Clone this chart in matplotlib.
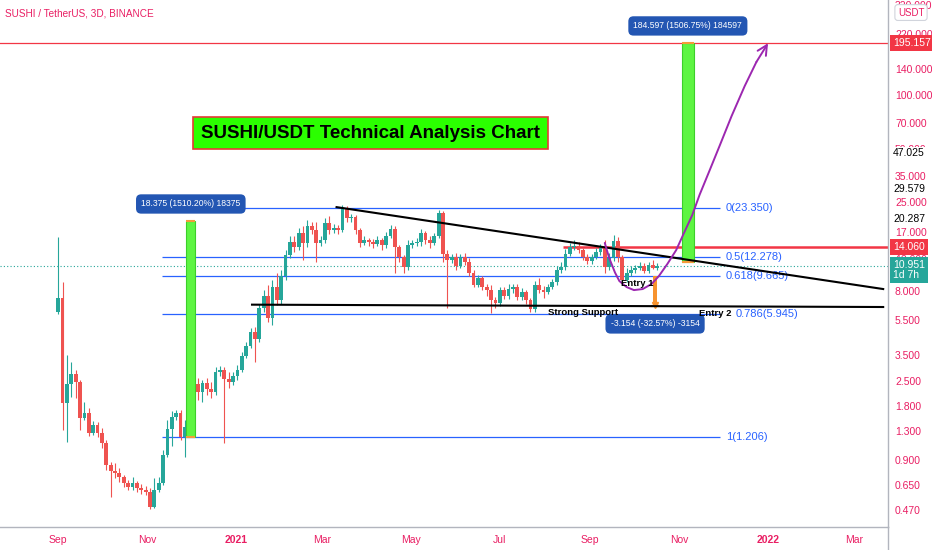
import matplotlib
matplotlib.use('Agg')
import matplotlib.pyplot as plt
import matplotlib.dates as mdates
from matplotlib.patches import Rectangle
from matplotlib.lines import Line2D
from matplotlib.transforms import blended_transform_factory
from matplotlib.ticker import NullLocator
import pandas as pd

FONT = ['Liberation Sans', 'DejaVu Sans']
plt.rcParams['font.family'] = FONT

PINK = '#e91e63'
UP = '#26a69a'
DOWN = '#ef5350'
FIB = '#2962ff'
BOXBLUE = '#2356b3'

# 3D candles, SUSHI/USDT (Binance)
first_open = 6.06
closes = [7.26, 1.88, 2.39, 2.73, 2.46, 1.54, 1.65, 1.27, 1.41, 1.27,
          1.12, 0.84, 0.78, 0.76, 0.72, 0.667, 0.633, 0.667, 0.625, 0.609,
          0.593, 0.488, 0.609, 0.667, 0.956, 1.335, 1.56, 1.645, 1.205, 1.37,
          1.90, 2.39, 2.15, 2.42, 2.24, 2.15, 2.80, 2.87, 2.555, 2.46,
          2.65, 2.87, 3.43, 3.91, 4.69, 4.28, 6.39, 7.45, 5.61, 8.37,
          7.08, 9.62, 12.65, 15.0, 14.06, 16.8, 14.8, 18.4, 17.5, 14.8,
          15.4, 19.1, 17.5, 17.95, 17.5, 23.3, 20.4, 20.7, 17.5, 14.8,
          15.4, 15.0, 14.6, 15.4, 14.4, 16.2, 17.7, 14.06, 12.3, 10.9,
          14.4, 14.8, 15.0, 16.8, 15.4, 14.8, 16.2, 21.8, 12.9, 11.9,
          12.3, 11.0, 12.3, 11.6, 10.0, 8.59, 9.38, 8.37, 8.05, 7.08,
          6.82, 8.05, 7.45, 8.16, 8.37, 7.36, 7.84, 7.08, 6.3, 8.59,
          8.05, 7.84, 8.37, 8.94, 10.4, 10.9, 12.9, 14.06, 14.2, 13.5,
          12.3, 11.75, 12.3, 13.15, 13.9, 10.9, 12.2, 15.2, 12.3, 9.17,
          10.0, 10.4, 10.7, 11.0, 10.25, 11.15, 10.7, 10.951]
highs = [15.98, 8.94, 3.48, 3.19, 2.87, 2.52, 1.90, 1.76, 1.48, 1.46,
         1.35, 1.16, 0.87, 0.86, 0.81, 0.74, 0.693, 0.72, 0.684, 0.658,
         0.641, 0.625, 0.712, 0.72, 1.02, 1.50, 1.69, 1.71, 1.71, 1.50,
         2.02, 2.52, 2.59, 2.52, 2.59, 2.46, 2.99, 3.02, 2.99, 2.80,
         2.80, 3.06, 3.62, 4.12, 4.93, 4.99, 6.73, 8.05, 8.59, 9.17,
         10.0, 10.4, 13.5, 16.2, 16.2, 17.95, 18.4, 19.9, 19.4, 19.4,
         16.2, 20.4, 20.9, 18.9, 18.7, 24.2, 23.8, 21.5, 21.2, 17.95,
         16.2, 15.8, 15.6, 16.2, 15.8, 17.1, 18.7, 18.4, 14.4, 12.65,
         15.4, 15.4, 15.8, 17.7, 17.3, 16.2, 16.8, 22.6, 22.3, 13.5,
         12.9, 13.0, 12.9, 13.0, 12.2, 10.4, 9.75, 9.62, 8.7, 8.59,
         7.36, 8.37, 8.37, 8.7, 8.7, 8.7, 8.26, 8.05, 7.26, 9.05,
         9.38, 8.48, 8.7, 9.29, 11.0, 11.6, 13.7, 14.8, 15.4, 15.0,
         13.9, 12.9, 12.9, 13.9, 14.6, 15.4, 13.0, 16.4, 16.0, 12.65,
         10.7, 11.0, 11.15, 11.6, 11.45, 11.6, 11.9, 11.45]
lows = [5.91, 1.32, 1.13, 2.02, 1.99, 1.32, 1.50, 1.22, 1.24, 1.21,
        1.05, 0.79, 0.56, 0.71, 0.675, 0.63, 0.609, 0.609, 0.593, 0.578,
        0.571, 0.476, 0.482, 0.593, 0.649, 0.93, 1.07, 1.50, 1.16, 0.93,
        1.32, 1.85, 1.95, 1.90, 2.07, 1.99, 2.07, 2.65, 1.12, 2.27,
        2.36, 2.52, 2.80, 3.35, 3.82, 3.19, 4.12, 6.06, 5.33, 5.13,
        6.63, 6.73, 9.17, 12.2, 13.15, 13.5, 11.9, 14.06, 16.6, 11.6,
        14.2, 14.8, 16.6, 16.8, 16.6, 17.1, 19.4, 19.4, 16.6, 14.06,
        14.4, 14.2, 13.9, 14.2, 13.5, 13.9, 15.8, 10.0, 11.6, 10.1,
        10.4, 13.9, 14.2, 14.2, 14.6, 13.9, 14.4, 15.8, 11.6, 6.39,
        11.45, 10.4, 10.7, 11.2, 9.62, 8.37, 8.37, 8.05, 7.5, 5.98,
        6.39, 6.55, 7.17, 7.17, 7.75, 7.08, 7.08, 6.73, 6.06, 6.06,
        7.75, 7.26, 7.63, 8.16, 8.59, 10.0, 10.4, 12.5, 13.5, 13.0,
        11.9, 11.3, 11.3, 12.05, 12.65, 10.1, 10.4, 11.75, 11.6, 8.94,
        8.94, 9.62, 10.1, 10.4, 10.0, 10.0, 10.6, 10.5]
opens = [first_open] + closes[:-1]
last_price = 10.951

# drawings
fib_levels = ['0', '0.5', '0.618', '0.786', '1']
fib_prices = [23.350, 12.278, 9.665, 5.945, 1.206]
fib_label_gap = [4, 4, 4, 11, 4]   # days right of the line end
fib_span = ['2020-11-11', '2021-11-29']

resist_dates = ['2021-03-11', '2022-03-21']
resist_prices = [23.5, 8.16]
support_dates = ['2021-01-12', '2022-03-21']
support_prices = [6.67, 6.47]

target_price = 195.157
resist_price = 14.060
resist_start = '2021-08-13'

bar1_dates = ['2020-11-28', '2020-12-04']
bar1_prices = [1.206, 19.581]
bar1_label = '18.375 (1510.20%) 18375'
bar2_dates = ['2021-11-03', '2021-11-11']
bar2_prices = [11.5, 195.157]
bar2_label = '184.597 (1506.75%) 184597'
drop_dates = ['2021-10-14', '2021-10-17']
drop_prices = [9.685, 6.531]
drop_label = '-3.154 (-32.57%) -3154'

curve_dates = ['2021-09-11', '2021-09-14', '2021-09-18', '2021-09-21', '2021-09-26',
               '2021-10-01', '2021-10-07', '2021-10-13', '2021-10-18', '2021-10-24',
               '2021-10-30', '2021-11-04', '2021-11-10', '2021-11-15', '2021-11-22',
               '2021-11-29', '2021-12-07', '2021-12-16', '2021-12-24', '2022-01-01']
curve_prices = [14.8, 12.2, 10.1, 9.05, 8.37, 8.05, 8.16, 8.7, 9.62, 11.3,
                13.5, 16.6, 21.2, 27.5, 37.9, 52.4, 76.2, 112.3, 153.1, 195.2]

notes = ['Entry 1', 'Strong Support', 'Entry 2']
note_dates = ['2021-10-03', '2021-08-27', '2021-11-26']
note_prices = [8.8, 6.06, 5.98]

ytick_vals = [320, 220, 140, 100, 70, 50, 35, 25, 17, 12, 8, 5.5, 3.5, 2.5,
              1.8, 1.3, 0.9, 0.65, 0.47]
side_prices = [47.025, 29.579, 20.287]
xtick_dates = ['2020-09-01', '2020-11-01', '2021-01-01', '2021-03-01', '2021-05-01',
               '2021-07-01', '2021-09-01', '2021-11-01', '2022-01-01', '2022-03-01']
xtick_labels = ['Sep', 'Nov', '2021', 'Mar', 'May', 'Jul', 'Sep', 'Nov', '2022', 'Mar']


def dn(s):
    return mdates.date2num(pd.Timestamp(s).to_pydatetime())


W, H = 932, 550
fig = plt.figure(figsize=(W / 100, H / 100), dpi=100)
ax = fig.add_axes([0, 23 / H, 888 / W, 527 / H])
ax.set_yscale('log')
ax.set_ylim(0.3777, 341.0)
jan = dn('2021-01-01')
ax.set_xlim(jan - 161.9, jan + 447.3)

# candles
dates = pd.date_range('2020-09-01', periods=len(closes), freq='3D')
x = mdates.date2num(dates.to_pydatetime())
cols = [UP if c >= o else DOWN for o, c in zip(opens, closes)]
ax.vlines(x, lows, highs, colors=cols, lw=0.8, zorder=3)
bot = [min(o, c) for o, c in zip(opens, closes)]
hgt = [max(abs(c - o), min(o, c) * 0.012) for o, c in zip(opens, closes)]
ax.bar(x, hgt, bottom=bot, width=2.6, color=cols, zorder=3, lw=0)

ax.axhline(last_price, color=UP, lw=0.8, ls=(0, (1, 2)), zorder=2)

# fib retracement
f0, f1 = dn(fib_span[0]), dn(fib_span[1])
for lvl, p, g in zip(fib_levels, fib_prices, fib_label_gap):
    ax.hlines(p, f0, f1, color=FIB, lw=0.9, zorder=2)
    ax.text(f1 + g, p, f'{lvl}({p:.3f})', color=FIB, fontsize=8,
            ha='left', va='center', zorder=4)

# horizontal levels
ax.axhline(target_price, color='#f23645', lw=0.9, zorder=2)
ax.hlines(resist_price, dn(resist_start), ax.get_xlim()[1], color='#f23645', lw=1.8, zorder=2)

# trend lines
ax.plot([dn(d) for d in resist_dates], resist_prices, color='black', lw=1.5, zorder=5)
ax.plot([dn(d) for d in support_dates], support_prices, color='black', lw=1.5, zorder=5)

# price range bars
for (d0, d1), (p0, p1), lab in [(bar1_dates, bar1_prices, bar1_label),
                                 (bar2_dates, bar2_prices, bar2_label)]:
    a, b = dn(d0), dn(d1)
    ax.add_patch(Rectangle((a, p0), b - a, p1 - p0, fc='#5df542', ec='#3ccf2a', lw=0.8, zorder=4))
    ax.hlines([p0, p1], a, b, color='#f59b3a', lw=1.5, zorder=4)
    ax.text((a + b) / 2, p1 * 1.25, lab, color='white', fontsize=6.2, ha='center',
            va='center', zorder=6,
            bbox=dict(boxstyle='round,pad=0.6', fc=BOXBLUE, ec='none'))

a, b = dn(drop_dates[0]), dn(drop_dates[1])
ax.add_patch(Rectangle((a, drop_prices[1]), b - a, drop_prices[0] - drop_prices[1],
                       fc='#f7932e', ec='none', zorder=4))
ax.plot([(a + b) / 2], [drop_prices[1] * 1.02], marker='v', color='#f7932e', ms=5, zorder=4)
ax.hlines(drop_prices[1], a - 1.2, b + 1.2, color='#f7932e', lw=1.5, zorder=4)
ax.text((a + b) / 2, 5.2, drop_label, color='white', fontsize=6.2, ha='center', va='center',
        zorder=6, bbox=dict(boxstyle='round,pad=0.6', fc=BOXBLUE, ec='none'))

# projected path
cx = [dn(d) for d in curve_dates]
ax.plot(cx[:-1], curve_prices[:-1], color='#9c27b0', lw=1.4, zorder=5, solid_capstyle='round')
ax.annotate('', xy=(cx[-1], curve_prices[-1]), xytext=(cx[-2], curve_prices[-2]),
            arrowprops=dict(arrowstyle='->,head_length=0.7,head_width=0.35',
                            color='#9c27b0', lw=1.4, shrinkA=0, shrinkB=0), zorder=5)

for t, d, p in zip(notes, note_dates, note_prices):
    ax.text(dn(d), p, t, fontsize=6.8, fontweight='bold', color='black',
            ha='center', va='center', zorder=6)

# title box
ax.text(0.4172, 0.7476, 'SUSHI/USDT Technical Analysis Chart', transform=ax.transAxes,
        fontsize=13.5, fontweight='bold', color='black', ha='center', va='center', zorder=7,
        bbox=dict(boxstyle='square,pad=0.42', fc='#2bff00', ec='#e53935', lw=1.2))
ax.text(5 / 888, 1 - 14 / 527, 'SUSHI / TetherUS, 3D, BINANCE', transform=ax.transAxes,
        fontsize=7.2, color=PINK, ha='left', va='center')

# axes styling
for s in ['left', 'top']:
    ax.spines[s].set_visible(False)
for s in ['right', 'bottom']:
    ax.spines[s].set_color('#b2b5be')
    ax.spines[s].set_linewidth(1)
fig.add_artist(Line2D([888 / W, 888 / W], [0, 23 / H], color='#b2b5be', lw=1))

ax.yaxis.tick_right()
ax.yaxis.set_minor_locator(NullLocator())
ax.set_yticks(ytick_vals)
ax.set_yticklabels([f'{v:.3f}' for v in ytick_vals])
ax.tick_params(axis='y', length=0, pad=5, labelcolor=PINK, labelsize=7.5)

ax.set_xticks([dn(d) for d in xtick_dates])
ax.set_xticklabels(xtick_labels)
ax.tick_params(axis='x', length=0, pad=6, labelcolor=PINK, labelsize=7.5)
for lab in ax.get_xticklabels():
    if lab.get_text().startswith('20'):
        lab.set_fontweight('bold')

tr = blended_transform_factory(ax.transAxes, ax.transData)
for p in side_prices:
    ax.text(1.0 + 5 / 888, p, f'{p:.3f}', transform=tr, fontsize=7.5, color='black',
            ha='left', va='center', clip_on=False, zorder=8,
            bbox=dict(boxstyle='square,pad=0.15', fc='white', ec='none'))
for p in [target_price, resist_price]:
    ax.text(1.0 + 5 / 888, p, f'{p:.3f}', transform=tr, fontsize=7.5, color='white',
            ha='left', va='center', clip_on=False, zorder=8,
            bbox=dict(boxstyle='square,pad=0.3', fc='#f23645', ec='none'))
ax.text(1.0 + 5 / 888, 10.43, f'{last_price:.3f}\n1d 7h', transform=tr, fontsize=7.5,
        color='white', ha='left', va='center', clip_on=False, zorder=8, linespacing=1.05,
        bbox=dict(boxstyle='square,pad=0.3', fc=UP, ec='none'))
ax.text(911 / 888, 290, 'USDT', transform=tr, fontsize=7, color=PINK, ha='center',
        va='center', clip_on=False, zorder=8,
        bbox=dict(boxstyle='round,pad=0.3', fc='white', ec='#d1d4dc', lw=0.8))

fig.savefig('out.png', dpi=100)
